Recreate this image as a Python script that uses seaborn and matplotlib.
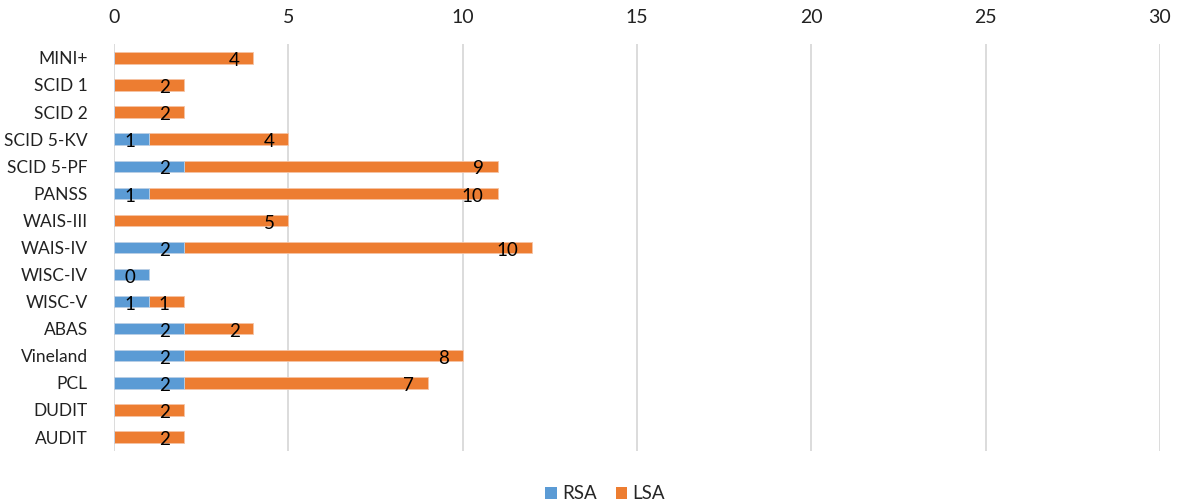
import matplotlib
matplotlib.use("Agg")
import matplotlib.pyplot as plt
from matplotlib.patches import Patch
from matplotlib.transforms import offset_copy
import seaborn as sns
import pandas as pd

# Instruments and the number of studies per group
instruments = ["MINI+", "SCID 1", "SCID 2", "SCID 5-KV", "SCID 5-PF", "PANSS",
               "WAIS-III", "WAIS-IV", "WISC-IV", "WISC-V", "ABAS", "Vineland",
               "PCL", "DUDIT", "AUDIT"]
rsa = [0, 0, 0, 1, 2, 1, 0, 2, 1, 1, 2, 2, 2, 0, 0]
lsa = [4, 2, 2, 4, 9, 10, 5, 10, 0, 1, 2, 8, 7, 2, 2]
# Label texts are kept apart from the values: the WISC-IV RSA segment spans
# one unit but its label reads "0", so the label is not derived from rsa.
rsa_labels = ["", "", "", "1", "2", "1", "", "2", "0", "1", "2", "2", "2", "", ""]
lsa_labels = ["4", "2", "2", "4", "9", "10", "5", "10", "", "1", "2", "8", "7", "2", "2"]
x_ticks = [0, 5, 10, 15, 20, 25, 30]

BLUE = "#5B9BD5"
ORANGE = "#ED7D31"

df = pd.DataFrame({"instrument": instruments, "RSA": rsa, "LSA": lsa})
df["total"] = df["RSA"] + df["LSA"]

sns.set_theme(style="white")
plt.rcParams["font.family"] = ["Lato", "DejaVu Sans"]

fig = plt.figure(figsize=(11.8, 5.04), dpi=100)
ax = fig.add_axes([0.0966, 0.106, 0.8864, 0.806])

# Stacked bars: full total in orange, RSA share drawn over it in blue
sns.barplot(data=df, y="instrument", x="total", color=ORANGE, orient="h",
            width=0.42, saturation=1, edgecolor="#F6C3A5", linewidth=0.6, ax=ax, zorder=2)
sns.barplot(data=df, y="instrument", x="RSA", color=BLUE, orient="h",
            width=0.42, saturation=1, edgecolor="#BCD5EE", linewidth=0.6, ax=ax, zorder=3)

# Value labels at the inside end of each segment
lab_tr = offset_copy(ax.transData, fig=fig, x=-10, y=-2, units="points")
for i in range(len(instruments)):
    if rsa_labels[i]:
        ax.text(rsa[i], i, rsa_labels[i], transform=lab_tr, ha="right", va="center",
                fontsize=13.5, color="black", zorder=5)
    if lsa_labels[i]:
        ax.text(rsa[i] + lsa[i], i, lsa_labels[i], transform=lab_tr, ha="right",
                va="center", fontsize=13.5, color="black", zorder=5)

ax.set_xlim(0, 30)
ax.set_ylim(len(instruments) - 0.5, -0.5)
ax.set_xticks(x_ticks)
ax.set_xticklabels([str(t) for t in x_ticks])
ax.xaxis.tick_top()
ax.tick_params(axis="x", length=0, pad=13, labelsize=14, labelcolor="#222222")
ax.tick_params(axis="y", length=0, pad=19, labelsize=12.5, labelcolor="#222222")
ax.set_xlabel("")
ax.set_ylabel("")
for s in ax.spines.values():
    s.set_visible(False)
ax.grid(axis="x", color="#D9D9D9", linewidth=1.3, zorder=0)
ax.grid(axis="y", visible=False)
ax.set_axisbelow(True)

handles = [Patch(facecolor=BLUE, edgecolor="none", label="RSA"),
           Patch(facecolor=ORANGE, edgecolor="none", label="LSA")]
fig.legend(handles=handles, loc="lower center", bbox_to_anchor=(0.513, -0.03), ncol=2,
           frameon=False, fontsize=13.5, handlelength=0.6, handleheight=0.6,
           handletextpad=0.3, columnspacing=1.0)

fig.savefig("out.png", dpi=100)
